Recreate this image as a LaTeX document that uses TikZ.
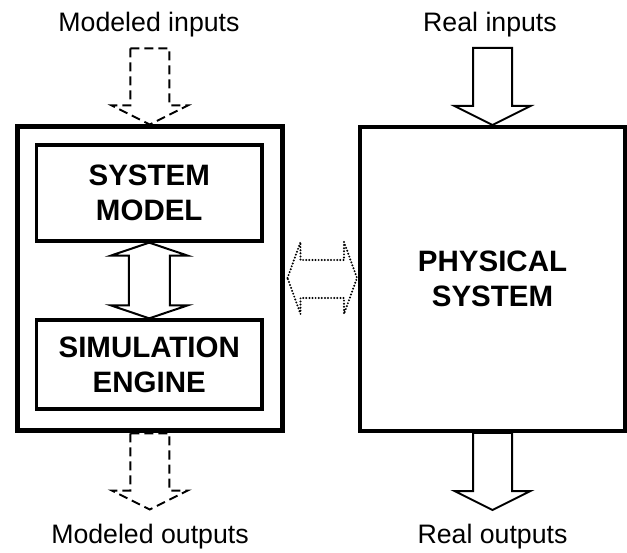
\documentclass[tikz,border=0pt]{standalone}
\usepackage{fontspec}
\setmainfont{Liberation Sans}
\usetikzlibrary{calc}
\newcommand\dnblockarrow[3]{%
  \draw[#3] ($(#1)+(-19.5,-#2)$) -- ($(#1)+(19.5,-#2)$) -- ($(#1)+(19.5,-19)$) -- ($(#1)+(38,-19)$) -- (#1) -- ($(#1)+(-38,-19)$) -- ($(#1)+(-19.5,-19)$) -- cycle;}
\tikzset{
  lbl/.style={anchor=base, font=\fontsize{26.7}{30}\selectfont},
  boxtxt/.style={align=center, font=\fontsize{29.5}{35}\selectfont\bfseries, inner sep=0pt},
  arr/.style={line width=2pt, line join=miter, fill=white},
  dasharr/.style={line width=2pt, dash pattern=on 9pt off 5pt, fill=white},
  dotarr/.style={line width=2.2pt, line cap=round, dash pattern=on 0pt off 3.1pt, fill=white},
}
\begin{document}
\begin{tikzpicture}[x=1pt, y=-1pt]
\fill[white] (0,0) rectangle (627,553);
\useasboundingbox (0,0) rectangle (627,553);
% boxes
\node[draw, line width=5pt, inner sep=0pt, minimum width=264.5pt, minimum height=304pt] (outer) at (149.75,279) {};
\node[draw, line width=3.3pt, minimum width=225.5pt, minimum height=96pt, boxtxt] (sysmodel) at (149.25,193) {SYSTEM\\MODEL};
\node[draw, line width=3.3pt, minimum width=225.5pt, minimum height=89pt, boxtxt] (simeng) at (149.25,364.5) {SIMULATION\\ENGINE};
\node[draw, line width=4pt, minimum width=265pt, minimum height=304pt, boxtxt] (phys) at (492.5,279) {PHYSICAL\\SYSTEM};
% labels
\node[lbl] (minp) at (149,32) {Modeled inputs};
\node[lbl] (rinp) at (490,32) {Real inputs};
\node[lbl] (mout) at (150,543) {Modeled outputs};
\node[lbl] (rout) at (492.5,543) {Real outputs};
% output tip coordinates
\coordinate (mtip) at ($(outer.south)+(0,76)$);
\coordinate (rtip) at ($(phys.south)+(0,77)$);
% input/output arrows
\dnblockarrow{outer.north}{76}{dasharr}
\dnblockarrow{phys.north}{77}{arr}
\dnblockarrow{mtip}{76}{dasharr}
\dnblockarrow{rtip}{77}{arr}
% inner double arrow
\draw[arr] (sysmodel.south) -- ($(sysmodel.south)+(38.5,13)$) -- ($(sysmodel.south)+(20.5,13)$)
  -- ($(simeng.north)+(20.5,-13)$) -- ($(simeng.north)+(38.5,-13)$) -- (simeng.north)
  -- ($(simeng.north)+(-38.5,-13)$) -- ($(simeng.north)+(-20.5,-13)$)
  -- ($(sysmodel.south)+(-20.5,13)$) -- ($(sysmodel.south)+(-38.5,13)$) -- cycle;
% dotted horizontal double arrow
\coordinate (ltip) at ($(outer.east)+(3,-1)$);
\coordinate (rtipd) at ($(phys.west)+(-1,-1)$);
\draw[dotarr] (ltip) -- ($(ltip)+(13,-36)$) -- ($(ltip)+(13,-18)$) -- ($(rtipd)+(-13,-18)$)
  -- ($(rtipd)+(-13,-36)$) -- (rtipd) -- ($(rtipd)+(-13,36)$) -- ($(rtipd)+(-13,20)$)
  -- ($(ltip)+(13,20)$) -- ($(ltip)+(13,36)$) -- cycle;
\end{tikzpicture}
\end{document}
